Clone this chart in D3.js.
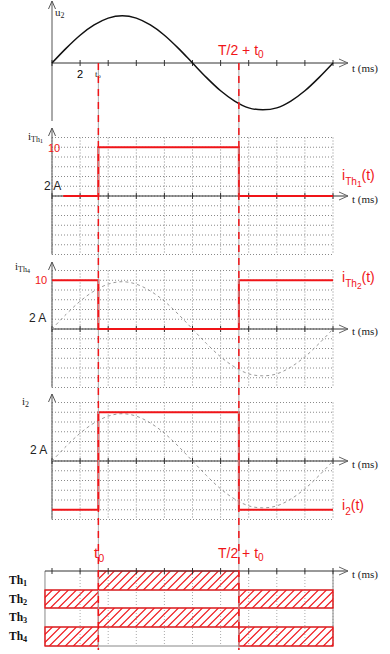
<!DOCTYPE html>
<html>
<head>
<meta charset="utf-8">
<script src="https://cdn.jsdelivr.net/npm/d3@7"></script>
<style>body{margin:0;background:#fff}svg{display:block}</style>
</head>
<body>
<svg id="chart" width="390" height="654"></svg>
<script>
// values (time in ms, amplitudes in grid units of 2 A per line)
const sampleT = [0,1,2,3,4,5,6,7,8,9,10,11,12,13,14,15,16,17,18,19,20];
const u2 = [0,3.0,5.7,7.8,9.2,9.7,9.2,7.8,5.7,3.0,0,-3.0,-5.7,-7.8,-9.2,-9.6,-9.2,-7.8,-5.7,-3.0,0];
const gridT = [0,2,4,6,8,10,12,14,16,18,20];
const gridA = [-12,-10,-8,-6,-4,-2,0,2,4,6,8,10,12];
const t0 = 3.3;
const halfT = 10;
const iTh1 = [[0.8,0],[3.3,0],[3.3,10],[13.3,10],[13.3,0],[20,0]];
const iTh2 = [[0,10],[3.3,10],[3.3,0],[13.3,0],[13.3,10],[20,10]];
const i2 = [[0,-10],[3.3,-10],[3.3,10],[13.3,10],[13.3,-10],[20,-10]];
const thNames = ['1','2','3','4'];
const thOn = [[[3.3,13.3]], [[-0.5,3.3],[13.3,20]], [[3.3,13.3]], [[-0.5,3.3],[13.3,20]]];

const RED = '#f01418';
const svg = d3.select('#chart');
const x = d3.scaleLinear().domain([0,20]).range([52,333]);
const axisY = [63,196,329,461];
const yOf = a => d3.scaleLinear().domain([-12,12]).range([a+58.5, a-58.5]);
const ys = axisY.map(yOf);

const serif = 'Liberation Serif, DejaVu Serif, serif';
const sans = 'Liberation Sans, Arial, sans-serif';

function arrowRight(g, xe, y) {
  g.append('path').attr('d',`M${xe-9},${y-4}L${xe},${y}L${xe-9},${y+4}`)
    .attr('fill','none').attr('stroke','#666').attr('stroke-width',1);
}
function arrowUp(g, xa, y) {
  g.append('path').attr('d',`M${xa-3.5},${y+8}L${xa},${y}L${xa+3.5},${y+8}`)
    .attr('fill','none').attr('stroke','#555').attr('stroke-width',1);
}
function timeAxis(g, y, x0) {
  g.append('line').attr('x1',x0).attr('x2',348).attr('y1',y).attr('y2',y)
    .attr('stroke','#333').attr('stroke-width',1);
  arrowRight(g, 348, y);
  g.selectAll('.tk').data(gridT).enter().append('line')
    .attr('x1',d=>x(d)).attr('x2',d=>x(d)).attr('y1',y-3).attr('y2',y+3)
    .attr('stroke','#333');
}
function tLabel(g, y) {
  g.append('text').attr('x',352).attr('y',y).attr('font-family',serif)
    .attr('font-size',11).attr('fill','#222').text('t (ms)');
}
function grid(g, y) {
  g.selectAll('.gv').data(gridT).enter().append('line')
    .attr('x1',d=>x(d)).attr('x2',d=>x(d)).attr('y1',y(12)).attr('y2',y(-12))
    .attr('stroke','#8a8a8a').attr('stroke-dasharray','1,2');
  g.selectAll('.gh').data(gridA).enter().append('line')
    .attr('x1',x(0)).attr('x2',x(20)).attr('y1',d=>y(d)).attr('y2',d=>y(d))
    .attr('stroke','#8a8a8a').attr('stroke-dasharray','1,2');
}
const sineLine = y => d3.line().x((d,i)=>x(sampleT[i])).y(d=>y(d)).curve(d3.curveCardinal);
const stepLine = y => d3.line().x(d=>x(d[0])).y(d=>y(d[1]));

function subLabel(g, xp, yp, main, sub, sub2, tail, o) {
  const t = g.append('text').attr('x',xp).attr('y',yp).attr('font-family',o.font)
    .attr('fill',o.color).attr('font-size',o.size).attr('font-weight',o.weight||'normal');
  t.append('tspan').text(main);
  t.append('tspan').attr('dy',o.d1).attr('font-size',o.size*0.72).text(sub);
  let back = o.d1;
  if (sub2) { t.append('tspan').attr('dy',o.d2).attr('font-size',o.size*0.6).text(sub2); back += o.d2; }
  if (tail) t.append('tspan').attr('dy',-back).text(tail);
  return t;
}

// panel 1 : u2
const p1 = svg.append('g');
p1.append('line').attr('x1',52).attr('x2',52).attr('y1',1).attr('y2',121).attr('stroke','#555');
arrowUp(p1, 52, 1);
timeAxis(p1, axisY[0], 52);
tLabel(p1, 72);
p1.append('path').datum(u2).attr('d', sineLine(ys[0])).attr('fill','none')
  .attr('stroke','#111').attr('stroke-width',1.5);
subLabel(p1, 55, 16, 'u', '2', null, null, {font:serif,size:11,color:'#222',d1:2});
p1.append('text').attr('x',x(2)).attr('y',78).attr('text-anchor','middle')
  .attr('font-family',sans).attr('font-size',11).text('2');
subLabel(p1, 95, 77, 't', 'o', null, null, {font:serif,size:9,color:'#222',d1:1});
subLabel(p1, 218, 55, 'T/2 + t', '0', null, null, {font:sans,size:14,color:RED,d1:3});

// current panels
const panels = [
  {y: ys[1], data: iTh1, sine: false, yTop: 128, name: ['i','Th','1'], nameXY:[28,140],
   tenXY:[48,152], twoXY:[44,190], right: ['i','Th','1','(t)'], rightY: 180, tY: 203},
  {y: ys[2], data: iTh2, sine: true, yTop: 262, name: ['i','Th','4'], nameXY:[15,270],
   tenXY:[35,284], twoXY:[29,322], right: ['i','Th','2','(t)'], rightY: 282, tY: 335},
  {y: ys[3], data: i2, sine: true, yTop: 394, name: ['i','2',null], nameXY:[22,405],
   tenXY:null, twoXY:[30,454], right: ['i','2',null,'(t)'], rightY: 510, tY: 468}
];
panels.forEach(p => {
  const g = svg.append('g');
  grid(g, p.y);
  g.append('line').attr('x1',52).attr('x2',52).attr('y1',p.yTop).attr('y2',p.y(-12))
    .attr('stroke','#555');
  arrowUp(g, 52, p.yTop);
  timeAxis(g, p.y(0), 52);
  tLabel(g, p.tY);
  if (p.sine) {
    g.append('path').datum(u2).attr('d', sineLine(p.y)).attr('fill','none')
      .attr('stroke','#999').attr('stroke-width',1).attr('stroke-dasharray','3,3');
  }
  g.append('path').datum(p.data).attr('d', stepLine(p.y)).attr('fill','none')
    .attr('stroke',RED).attr('stroke-width',2);
  subLabel(g, p.nameXY[0], p.nameXY[1], p.name[0], p.name[1], p.name[2], null,
    {font:serif,size:11,color:'#222',d1:2,d2:1});
  if (p.tenXY) g.append('text').attr('x',p.tenXY[0]).attr('y',p.tenXY[1])
    .attr('font-family',sans).attr('font-size',11).attr('fill',RED).text('10');
  g.append('text').attr('x',p.twoXY[0]).attr('y',p.twoXY[1])
    .attr('font-family',sans).attr('font-size',12).attr('fill','#222').text('2 A');
  subLabel(g, 342, p.rightY, p.right[0], p.right[1], p.right[2], p.right[3],
    {font:sans,size:14,color:RED,d1:5,d2:2});
});

// bottom panel : thyristors
const rowY = [571,590,608,627,646];
const pb = svg.append('g');
const bx0 = x(-0.5);
pb.selectAll('.gv').data(gridT.slice(1)).enter().append('line')
  .attr('x1',d=>x(d)).attr('x2',d=>x(d)).attr('y1',rowY[0]).attr('y2',rowY[4])
  .attr('stroke','#aaa').attr('stroke-dasharray','1,2');
pb.selectAll('.rl').data(rowY.slice(1)).enter().append('line')
  .attr('x1',bx0).attr('x2',x(20)).attr('y1',d=>d).attr('y2',d=>d).attr('stroke','#888');
pb.append('line').attr('x1',bx0).attr('x2',bx0).attr('y1',rowY[0]).attr('y2',rowY[4]).attr('stroke','#888');
pb.append('line').attr('x1',x(20)).attr('x2',x(20)).attr('y1',rowY[0]).attr('y2',rowY[4]).attr('stroke','#888');
let clipN = 0;
thOn.forEach((iv, r) => {
  const y0 = rowY[r], y1 = rowY[r+1];
  iv.forEach(d => {
    const xa = x(d[0]), xb = x(d[1]);
    const id = 'cl' + (clipN++);
    const cell = pb.append('g');
    cell.append('clipPath').attr('id',id)
      .append('rect').attr('x',xa).attr('y',y0).attr('width',xb-xa).attr('height',y1-y0);
    const hatch = cell.append('g').attr('clip-path',`url(#${id})`);
    for (let s = Math.floor(xa) - (y1-y0) + 0.4; s < xb; s += 8) {
      hatch.append('line').attr('x1',s).attr('y1',y1).attr('x2',s+(y1-y0)).attr('y2',y0)
        .attr('stroke',RED).attr('stroke-width',1.1);
    }
    cell.append('rect').attr('x',xa).attr('y',y0).attr('width',xb-xa).attr('height',y1-y0)
      .attr('fill','none').attr('stroke',RED).attr('stroke-width',1.3);
  });
  subLabel(pb, 9, rowY[r]+12.5, 'Th', thNames[r], null, null,
    {font:serif,size:11.5,color:'#111',weight:'bold',d1:2});
});
timeAxis(pb, rowY[0], bx0);
tLabel(pb, 578);
subLabel(pb, 94, 558, 't', '0', null, null, {font:sans,size:15,color:RED,d1:4});
subLabel(pb, 218, 558, 'T/2 + t', '0', null, null, {font:sans,size:14,color:RED,d1:3});

// reference lines at t0 and T/2 + t0
const refs = svg.append('g');
[t0, t0 + halfT].forEach(t => {
  refs.append('line').attr('x1',x(t)).attr('x2',x(t)).attr('y1',axisY[0]).attr('y2',650)
    .attr('stroke','#aaa').attr('stroke-width',1);
  refs.append('line').attr('x1',x(t)).attr('x2',x(t)).attr('y1',axisY[0]).attr('y2',650)
    .attr('stroke',RED).attr('stroke-width',1.5).attr('stroke-dasharray','7,6');
});
</script>
</body>
</html>
